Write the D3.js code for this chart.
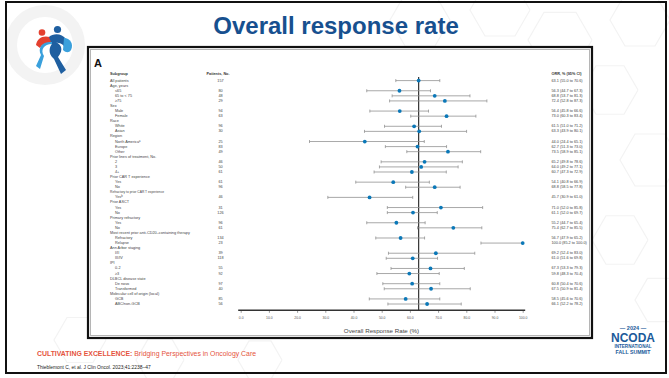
<!DOCTYPE html>
<html><head><meta charset="utf-8">
<script src="https://cdn.jsdelivr.net/npm/d3@7"></script>
<style>html,body{margin:0;padding:0;background:#fff;}svg{display:block;}</style>
</head><body>
<svg id="c" width="669" height="378"></svg>
<script>
const rowLabels = ["All patients","Age, years","≤65","65 to < 75","≥75","Sex","Male","Female","Race","White","Asian","Region","North America|a","Europe","Other","Prior lines of treatment, No.","2","3","4+","Prior CAR T experience","Yes","No","Refractory to prior CAR T experience","Yes|b","Prior ASCT","Yes","No","Primary refractory","Yes","No","Most recent prior anti-CD20–containing therapy","Refractory","Relapse","Ann Arbor staging","I/II","III/IV","IPI","0-2","≥3","DLBCL disease state","De novo","Transformed","Molecular cell of origin (local)","GCB","ABC/non-GCB"];
const patients = [157,null,80,48,29,null,94,63,null,96,30,null,25,83,49,null,46,50,61,null,61,96,null,46,null,31,126,null,96,61,null,134,23,null,39,118,null,55,92,null,97,40,null,85,56];
const orr = [63.1,null,56.3,68.8,72.4,null,56.4,73.0,null,61.5,63.3,null,44.0,62.7,73.5,null,65.2,64.0,60.7,null,54.1,68.8,null,45.7,null,71.0,61.1,null,55.2,75.4,null,56.7,100.0,null,69.2,61.0,null,67.3,59.8,null,60.8,67.5,null,58.5,66.1];
const lower = [55.0,null,44.7,53.7,52.8,null,45.8,60.3,null,51.0,43.9,null,24.4,51.3,58.9,null,49.8,49.2,47.3,null,40.8,58.5,null,30.9,null,52.0,52.0,null,44.7,62.7,null,47.9,85.2,null,52.4,51.6,null,53.3,48.3,null,50.4,50.9,null,45.6,52.2];
const upper = [70.6,null,67.3,81.3,87.3,null,66.6,83.4,null,71.2,80.1,null,65.1,73.0,85.1,null,78.6,77.1,72.9,null,66.9,77.8,null,61.0,null,85.8,69.7,null,65.4,85.5,null,65.2,100.0,null,83.0,69.8,null,79.3,70.4,null,70.6,81.4,null,70.6,78.2];
const xTicks = [0,10,20,30,40,50,60,70,80,90,100];
const overallORR = 63.1;

const svg = d3.select("#c");
const F = "'Liberation Sans', Arial, sans-serif";

// background hexagons
const bg = svg.append("g");
const hex = (cx, cy, r) => d3.range(7).map(i => [cx + r*Math.cos(Math.PI/3*i), cy + r*Math.sin(Math.PI/3*i)]);
[[420,20,30],[500,10,30],[560,40,32],[640,20,30],[610,90,28],[650,160,30],[620,240,28],[660,300,25],[80,340,26],[160,360,24],[260,360,22]].forEach(h=>{
  bg.append("path").attr("d", d3.line()(hex(...h))).attr("fill","none").attr("stroke","#f3f3f3").attr("stroke-width",1.2);
});
bg.append("circle").attr("cx",45).attr("cy",45).attr("r",34).attr("fill","none").attr("stroke","#f3f3f3").attr("stroke-width",12);

// slide frame
svg.append("rect").attr("x",6).attr("y",2).attr("width",660).attr("height",371).attr("fill","none").attr("stroke","#111").attr("stroke-width",2);

// title
svg.append("text").attr("x",336).attr("y",34).attr("text-anchor","middle").attr("font-family",F).attr("font-weight","bold").attr("font-size",24).attr("fill","#17508f").text("Overall response rate");

// logo
const lg = svg.append("g");
lg.append("circle").attr("cx",42).attr("cy",32.5).attr("r",3.3).attr("fill","#e4402f");
lg.append("circle").attr("cx",57.5).attr("cy",29.5).attr("r",3.6).attr("fill","#1f5fa0");
lg.append("path").attr("d","M36,45 C37,38 43,35 50,37 L52,44 C47,42 42,44 40,48 Z").attr("fill","#e4402f");
lg.append("path").attr("d","M49,37 C53,33 62,33 66,39 L64,46 C60,42 55,42 52,45 Z").attr("fill","#1f5fa0");
lg.append("path").attr("d","M64,38 C70,38 74,44 71,50 C69,53 66,53 63,50 Z").attr("fill","#3aa0dc");
lg.append("path").attr("d","M52,44 C44,44 40,50 44,56 L40,69 L36,66 L41,55 C37,47 43,41 52,42 Z").attr("fill","#3aa0dc");
lg.append("path").attr("d","M52,42 C62,42 64,50 58,57 L66,70 L61,74 L54,59 C47,53 50,46 52,44 Z").attr("fill","#1f5fa0");

// chart box
svg.append("rect").attr("x",88).attr("y",47).attr("width",504).attr("height",291).attr("fill","#fff").attr("stroke","#111").attr("stroke-width",2.2);
svg.append("rect").attr("x",90.5).attr("y",49.5).attr("width",499).attr("height",286).attr("fill","none").attr("stroke","#b5b5b5").attr("stroke-width",1);

const g = svg.append("g");
g.append("text").attr("x",94).attr("y",67).attr("font-family",F).attr("font-weight","bold").attr("font-size",11).attr("fill","#111").text("A");

const x = d3.scaleLinear().domain([0,100]).range([240.7,522.7]);
const y = d3.scalePoint().domain(d3.range(rowLabels.length)).range([80.6,304]);
const tcol = "#444", fs = 3.8;

// headers
g.append("text").attr("x",110).attr("y",74).attr("dominant-baseline","central").attr("font-family",F).attr("font-weight","bold").attr("font-size",fs).attr("fill","#333").text("Subgroup");
g.append("text").attr("x",206.5).attr("y",74).attr("dominant-baseline","central").attr("font-family",F).attr("font-weight","bold").attr("font-size",fs).attr("fill","#333").text("Patients, No.");
g.append("text").attr("x",551.5).attr("y",74).attr("dominant-baseline","central").attr("font-family",F).attr("font-weight","bold").attr("font-size",fs).attr("fill","#333").text("ORR, % (95% CI)");

// labels
rowLabels.forEach((lab,i)=>{
  const parts = lab.split("|");
  const isHead = patients[i] === null;
  const t = g.append("text").attr("x", (isHead || i===0) ? 110 : 115).attr("y", y(i)).attr("dominant-baseline","central")
    .attr("font-family",F).attr("font-size", (i===22) ? 3.3 : fs).attr("fill",tcol).text(parts[0]);
  if (parts[1]) t.append("tspan").attr("font-size",2.6).attr("dy",-1).text(parts[1]);
  if (!isHead) {
    g.append("text").attr("x",220.5).attr("y",y(i)).attr("text-anchor","middle").attr("dominant-baseline","central")
      .attr("font-family",F).attr("font-size",fs).attr("fill",tcol).text(patients[i]);
    g.append("text").attr("x",551.5).attr("y",y(i)).attr("dominant-baseline","central")
      .attr("font-family",F).attr("font-size",fs).attr("fill",tcol)
      .text(`${orr[i].toFixed(1)} (${lower[i].toFixed(1)} to ${upper[i].toFixed(1)})`);
  }
});

// reference line
g.append("line").attr("x1",x(overallORR)).attr("x2",x(overallORR)).attr("y1",77).attr("y2",310).attr("stroke","#333").attr("stroke-width",1.2);

// whiskers & points
const idx = d3.range(rowLabels.length).filter(i => orr[i] !== null);
const wk = g.append("g").attr("stroke","#929292").attr("stroke-width",0.8);
idx.forEach(i=>{
  wk.append("line").attr("x1",x(lower[i])).attr("x2",x(upper[i])).attr("y1",y(i)).attr("y2",y(i));
  wk.append("line").attr("x1",x(lower[i])).attr("x2",x(lower[i])).attr("y1",y(i)-1.5).attr("y2",y(i)+1.5);
  wk.append("line").attr("x1",x(upper[i])).attr("x2",x(upper[i])).attr("y1",y(i)-1.5).attr("y2",y(i)+1.5);
});
g.selectAll("circle.pt").data(idx).join("circle").attr("class","pt")
  .attr("cx",i=>x(orr[i])).attr("cy",i=>y(i)).attr("r",1.9).attr("fill","#0b78b8");

// axis
const ax = g.append("g").attr("transform","translate(0,310.3)")
  .call(d3.axisBottom(x).tickValues(xTicks).tickFormat(d3.format(".1f")).tickSize(2.5).tickPadding(3.5));
ax.select(".domain").remove();
ax.selectAll(".tick line").attr("stroke","#555").attr("stroke-width",0.6);
ax.selectAll(".tick text").attr("font-family",F).attr("font-size",3.4).attr("fill","#555");
ax.append("line").attr("x1",x(0)-2.5).attr("x2",x(100)+2.5).attr("y1",0).attr("y2",0).attr("stroke","#333").attr("stroke-width",1.4);
g.append("text").attr("x",381.5).attr("y",330).attr("text-anchor","middle").attr("dominant-baseline","central")
  .attr("font-family","'Liberation Sans Narrow', 'Liberation Sans', Arial").attr("font-size",6.2).attr("fill","#444").text("Overall Response Rate (%)");

// footer
const ft = svg.append("text").attr("x",37).attr("y",356).attr("font-family",F).attr("font-size",6.9).attr("fill","#e5533d");
ft.append("tspan").attr("font-weight","bold").text("CULTIVATING EXCELLENCE: ");
ft.append("tspan").text("Bridging Perspectives in Oncology Care");
svg.append("text").attr("x",37).attr("y",369).attr("font-family",F).attr("font-size",4.9).attr("fill","#222").text("Thieblemont C, et al. J Clin Oncol. 2023;41:2238–47");

// NCODA logo
const nl = svg.append("g").attr("font-family",F).attr("fill","#1b5a9a").attr("text-anchor","middle");
nl.append("text").attr("x",633).attr("y",330).attr("font-size",5.5).attr("font-weight","bold").text("— 2024 —");
nl.append("text").attr("x",633).attr("y",342).attr("font-size",12).attr("font-weight","bold").text("NCODA");
nl.append("text").attr("x",633).attr("y",348).attr("font-size",4.6).attr("font-weight","bold").text("INTERNATIONAL");
nl.append("text").attr("x",633).attr("y",354).attr("font-size",5.2).attr("font-weight","bold").text("FALL SUMMIT");
</script>
</body></html>
